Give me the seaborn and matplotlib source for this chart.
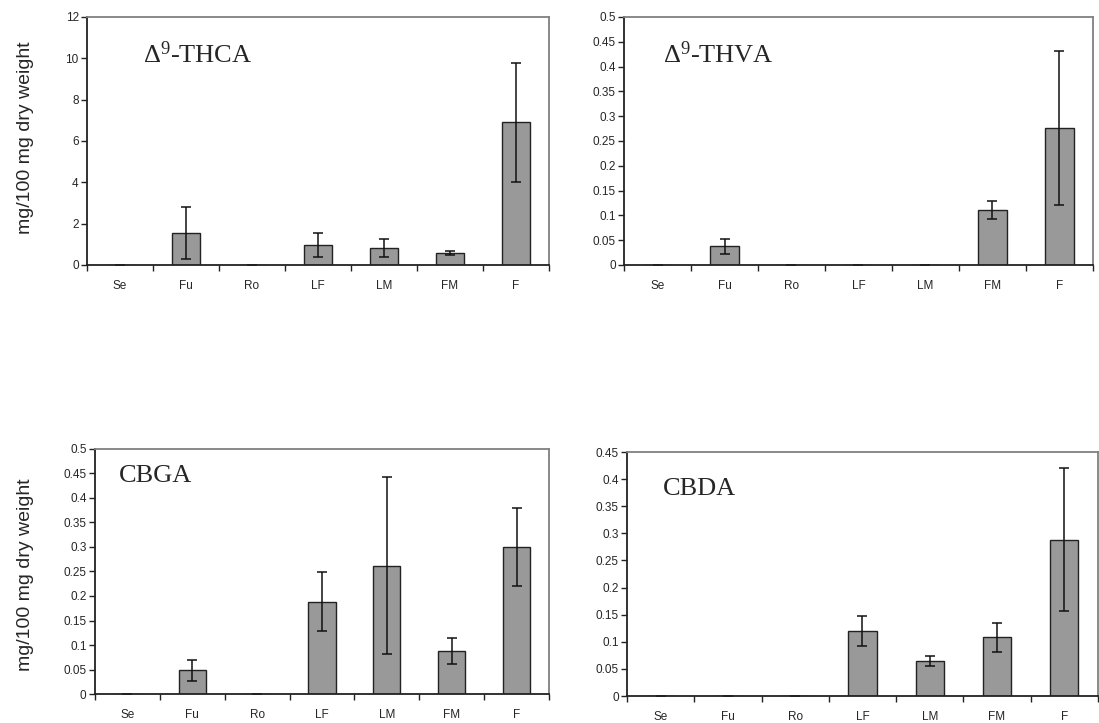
import numpy as np
import pandas as pd
import matplotlib
matplotlib.use("Agg")
import matplotlib.pyplot as plt
from matplotlib.ticker import FuncFormatter, FixedLocator, MultipleLocator
import seaborn as sns

# Plant parts
categories = ["Se", "Fu", "Ro", "LF", "LM", "FM", "F"]

# Cannabinoid content (mg/100 mg dry weight), mean and error
thca_mean = [0.0, 1.55, 0.0, 0.97, 0.82, 0.58, 6.9]
thca_err = [0.0, 1.25, 0.0, 0.57, 0.45, 0.12, 2.87]

thva_mean = [0.0, 0.038, 0.0, 0.0, 0.0, 0.110, 0.276]
thva_err = [0.0, 0.015, 0.0, 0.0, 0.0, 0.018, 0.156]

cbga_mean = [0.0, 0.048, 0.0, 0.188, 0.262, 0.088, 0.300]
cbga_err = [0.0, 0.022, 0.0, 0.060, 0.180, 0.027, 0.079]

cbda_mean = [0.0, 0.0, 0.0, 0.120, 0.065, 0.108, 0.288]
cbda_err = [0.0, 0.0, 0.0, 0.028, 0.009, 0.027, 0.132]

titles = [r"$\Delta^{9}$-THCA", r"$\Delta^{9}$-THVA", "CBGA", "CBDA"]
y_label = "mg/100 mg dry weight"

sns.set_style("white")
plt.rcParams["font.family"] = ["Liberation Sans Narrow", "Liberation Sans", "DejaVu Sans"]
plt.rcParams["mathtext.fontset"] = "custom"
plt.rcParams["mathtext.rm"] = "Liberation Serif"
plt.rcParams["mathtext.it"] = "Liberation Serif:italic"

fig = plt.figure(figsize=(10.99, 7.23), dpi=100)

panels = [
    dict(rect=[0.0792, 0.6335, 0.4203, 0.3430], mean=thca_mean, err=thca_err,
         ymax=12, step=2, title=titles[0], tpos=(0.121, 0.85)),
    dict(rect=[0.5678, 0.6335, 0.4267, 0.3430], mean=thva_mean, err=thva_err,
         ymax=0.5, step=0.05, title=titles[1], tpos=(0.083, 0.85)),
    dict(rect=[0.0864, 0.0401, 0.4131, 0.3389], mean=cbga_mean, err=cbga_err,
         ymax=0.5, step=0.05, title=titles[2], tpos=(0.053, 0.89)),
    dict(rect=[0.5705, 0.0373, 0.4285, 0.3375], mean=cbda_mean, err=cbda_err,
         ymax=0.45, step=0.05, title=titles[3], tpos=(0.076, 0.85)),
]

fmt = FuncFormatter(lambda v, pos: f"{round(v, 4):g}")

for p in panels:
    ax = fig.add_axes(p["rect"])
    df = pd.DataFrame({"part": categories, "value": p["mean"]})
    sns.barplot(data=df, x="part", y="value", color="#999999", saturation=1,
                edgecolor="#222222", linewidth=1.0, width=0.42, ax=ax)
    ax.errorbar(np.arange(len(categories)), p["mean"], yerr=p["err"],
                fmt="none", ecolor="#111111", elinewidth=1.1, capsize=3.5,
                capthick=1.1)
    ax.set_xlim(-0.5, len(categories) - 0.5)
    ax.set_ylim(0, p["ymax"])
    ax.yaxis.set_major_locator(MultipleLocator(p["step"]))
    ax.yaxis.set_major_formatter(fmt)
    ax.xaxis.set_minor_locator(FixedLocator(np.arange(-0.5, len(categories), 1.0)))
    ax.tick_params(axis="x", which="major", length=0, pad=11, labelsize=8.5)
    ax.tick_params(axis="x", which="minor", length=4, width=1, direction="out",
                   bottom=True, color="#222222")
    ax.tick_params(axis="y", which="major", length=4, width=1, direction="out",
                   left=True, pad=2, labelsize=8.5, color="#222222")
    ax.set_xlabel("")
    ax.set_ylabel("")
    for side in ("left", "bottom"):
        ax.spines[side].set_color("#222222")
        ax.spines[side].set_linewidth(1.3)
    for side in ("top", "right"):
        ax.spines[side].set_color("#808080")
        ax.spines[side].set_linewidth(1.3)
    ax.text(p["tpos"][0], p["tpos"][1], p["title"], transform=ax.transAxes,
            fontsize=19, family="Liberation Serif", va="center", ha="left")

fig.text(0.0228, 0.809, y_label, rotation=90, ha="center", va="center",
         fontsize=14, family="Liberation Sans")
fig.text(0.0228, 0.205, y_label, rotation=90, ha="center", va="center",
         fontsize=14, family="Liberation Sans")

fig.savefig("out.png", dpi=100)
